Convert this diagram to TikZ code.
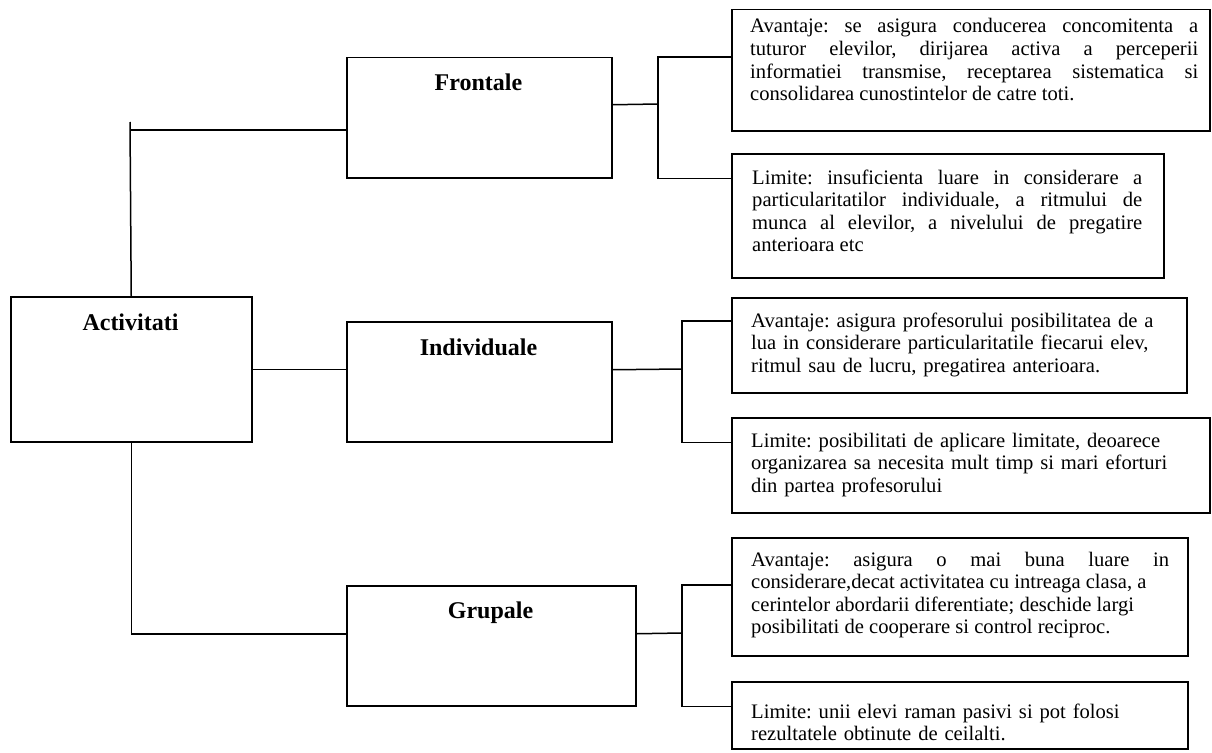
\documentclass[tikz,border=0pt]{standalone}
\usepackage{fontspec}
\setmainfont{Liberation Serif}
\frenchspacing
% body text: Times-sized, loose tolerance so the forced justified breaks stay clean
\newcommand\bodyfont{\fontsize{20.6}{22.6}\selectfont\frenchspacing
  \tolerance=10000 \hbadness=10000 \relax}
\begin{document}
\begin{tikzpicture}[x=1pt,y=-1pt,
  frame/.style={draw=black, line width=1.5pt, inner sep=0pt, anchor=north west},
  link/.style={draw=black, line width=1.5pt},
  title/.style={font=\fontsize{24}{28}\selectfont\bfseries, anchor=base, inner sep=0pt},
  bodyj/.style={font=\bodyfont, anchor=base west, inner sep=0pt, align=justify},
  bodyl/.style={font=\bodyfont, anchor=base west, inner sep=0pt, align=left},
]
\useasboundingbox (0,0) rectangle (1212,752);

% category boxes
\node[frame, minimum width=241, minimum height=145] (act) at (10,296) {};
\node[frame, minimum width=265, minimum height=120] (fr)  at (346,57) {};
\node[frame, minimum width=265, minimum height=120] (ind) at (346,321) {};
\node[frame, minimum width=289, minimum height=120] (gr)  at (346,585) {};

\node[title] (tAct) at (130.5,330) {Activitati};
\node[title] (tFr)  at (478.5,90)  {Frontale};
\node[title] (tInd) at (478.5,355) {Individuale};
\node[title] (tGr)  at (490.5,618) {Grupale};

% advantage / limit boxes
\node[frame, minimum width=478, minimum height=121] (a1) at (731,9)   {};
\node[frame, minimum width=432, minimum height=124] (l1) at (731,153) {};
\node[frame, minimum width=455, minimum height=95]  (a2) at (731,297) {};
\node[frame, minimum width=478, minimum height=95]  (l2) at (731,417) {};
\node[frame, minimum width=456, minimum height=118] (a3) at (731,537) {};
\node[frame, minimum width=456, minimum height=67]  (l3) at (731,681) {};

\node[bodyj, text width=448] (ta1) at (750,33)
  {Avantaje: se asigura conducerea concomitenta a\linebreak
   tuturor elevilor, dirijarea activa a perceperii\linebreak
   informatiei transmise, receptarea sistematica si\linebreak
   consolidarea cunostintelor de catre toti.};
\node[bodyj, text width=390] (tl1) at (752,184)
  {Limite: insuficienta luare in considerare a\linebreak
   particularitatilor individuale, a ritmului de\linebreak
   munca al elevilor, a nivelului de pregatire\linebreak
   anterioara etc};
\node[bodyl, text width=430] (ta2) at (751,327)
  {Avantaje: asigura profesorului posibilitatea de a\\
   lua in considerare particularitatile fiecarui elev,\\
   ritmul sau de lucru, pregatirea anterioara.};
\node[bodyl, text width=450] (tl2) at (751,447)
  {Limite: posibilitati de aplicare limitate, deoarece\\
   organizarea sa necesita mult timp si mari eforturi\\
   din partea profesorului};
\node[bodyj, text width=418] (ta3) at (751,566)
  {Avantaje: asigura o mai buna luare in\linebreak
   considerare,decat activitatea cu intreaga clasa, a\newline
   cerintelor abordarii diferentiate; deschide largi\newline
   posibilitati de cooperare si control reciproc.};
\node[bodyl, text width=430] (tl3) at (751,718)
  {Limite: unii elevi raman pasivi si pot folosi\\
   rezultatele obtinute de ceilalti.};

% links from the root box
\coordinate (actTop) at (130,122);
\coordinate (frIn) at ([yshift=-12pt]fr.west);
\coordinate (grIn) at ([yshift=12pt]gr.west);
\draw[link] (act.north) -- (actTop);
\draw[link] (act.north |- frIn) -- (frIn);
\draw[link] (act.east) -- (act.east -| ind.west);
\draw[link] (act.south) -- (act.south |- grIn) -- (grIn);

% brackets to the advantage / limit boxes
\coordinate (frOut) at ([yshift=13pt]fr.east);
\coordinate (frHub) at (658,104);
\draw[link] (frOut) -- (frHub);
\draw[link] (a1.west |- fr.north) -- (frHub |- fr.north) -- (frHub |- fr.south) -- (l1.west |- fr.south);

\coordinate (indOut) at ([yshift=12pt]ind.east);
\coordinate (indHub) at (682,369);
\draw[link] (indOut) -- (indHub);
\draw[link] (a2.west |- ind.north) -- (indHub |- ind.north) -- (indHub |- ind.south) -- (l2.west |- ind.south);

\coordinate (grOut) at ([yshift=12pt]gr.east);
\coordinate (grHub) at (682,633);
\draw[link] (grOut) -- (grHub);
\draw[link] (a3.west |- gr.north) -- (grHub |- gr.north) -- (grHub |- gr.south) -- (l3.west |- gr.south);
\end{tikzpicture}
\end{document}
